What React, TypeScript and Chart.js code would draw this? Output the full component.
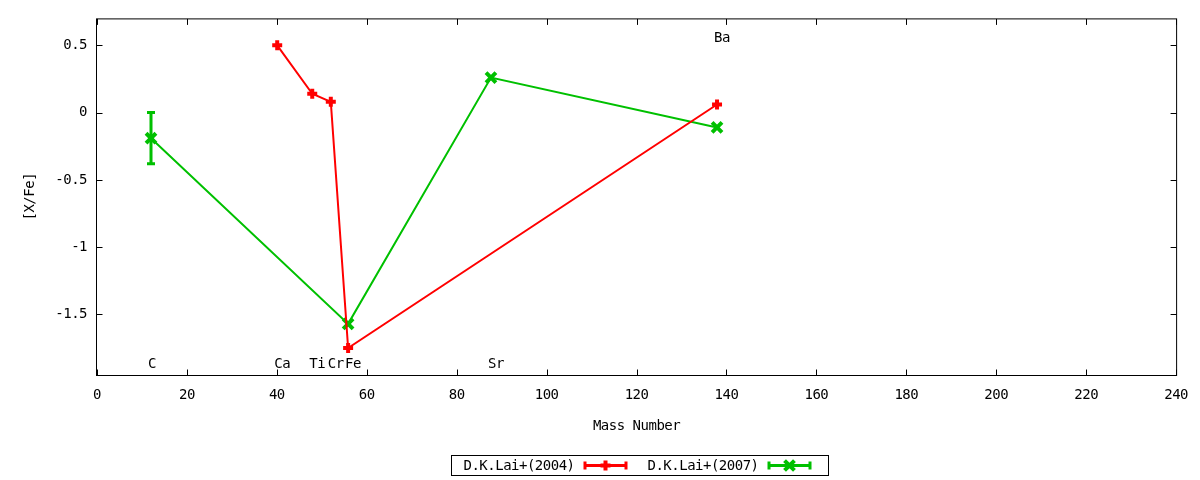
import React, { useEffect, useRef } from "react";
import { Chart, registerables } from "chart.js";

Chart.register(...registerables);

const FONT_FAMILY = '"DejaVu Sans Mono", monospace';
const FONT_SIZE = 14;
const LETTER_SPACING = "-0.5px";

// ---- data ----
const xTickValues = [0, 20, 40, 60, 80, 100, 120, 140, 160, 180, 200, 220, 240];
const yTickValues = [0.5, 0, -0.5, -1, -1.5];
const xTitle = "Mass Number";
const yTitle = "[X/Fe]";

const seriesNames = ["D.K.Lai+(2004)", "D.K.Lai+(2007)"];

const lai2004Elements = ["Ca", "Ti", "Cr", "Fe", "Ba"];
const lai2004Mass = [40.08, 47.87, 52.0, 55.85, 137.9];
const lai2004Values = [0.5, 0.14, 0.08, -1.75, 0.06];
const lai2004Errors = [0, 0, 0, 0, 0];

const lai2007Elements = ["C", "Fe", "Sr", "Ba"];
const lai2007Mass = [12.01, 55.85, 87.62, 137.9];
const lai2007Values = [-0.19, -1.57, 0.26, -0.11];
const lai2007Errors = [0.19, 0, 0, 0];

const labelElements = ["C", "Ca", "Ti", "Cr", "Fe", "Sr", "Ba"];
const labelMass = [12.01, 40.08, 47.87, 52.0, 55.85, 87.62, 137.9];
const labelY = [-1.87, -1.87, -1.87, -1.87, -1.87, -1.87, 0.55];

const seriesColors = ["#ff0000", "#00c000"];
const seriesMarkers = ["cross", "crossRot"];
const seriesMarkerRadius = [5, 7];

function drawMarker(ctx: CanvasRenderingContext2D, style: string, x: number, y: number, r: number) {
  ctx.beginPath();
  if (style === "cross") {
    ctx.moveTo(x - r, y);
    ctx.lineTo(x + r, y);
    ctx.moveTo(x, y - r);
    ctx.lineTo(x, y + r);
  } else {
    const d = r * 0.7071;
    ctx.moveTo(x - d, y - d);
    ctx.lineTo(x + d, y + d);
    ctx.moveTo(x - d, y + d);
    ctx.lineTo(x + d, y - d);
  }
  ctx.stroke();
}

const setSpacing = (chart: any) => {
  try {
    (chart.ctx as any).letterSpacing = LETTER_SPACING;
  } catch (e) {}
};

const spacingPlugin = {
  id: "letterSpacing",
  beforeInit: setSpacing,
  beforeUpdate: setSpacing,
  beforeDraw: setSpacing,
};

const framePlugin = {
  id: "gnuFrame",
  afterDatasetsDraw(chart: any) {
    const { ctx, chartArea } = chart;
    const { left, right, top, bottom } = chartArea;
    const xs = chart.scales.x;
    const ys = chart.scales.y;
    ctx.save();
    ctx.strokeStyle = "#000";
    ctx.lineWidth = 1;
    ctx.strokeRect(left - 0.5, top + 0.5, right - left + 1, bottom - top);
    const tl = 6;
    ctx.beginPath();
    xTickValues.forEach((v) => {
      const px = Math.round(xs.getPixelForValue(v)) + 0.5;
      ctx.moveTo(px, bottom + 0.5);
      ctx.lineTo(px, bottom + 0.5 - tl);
      ctx.moveTo(px, top + 0.5);
      ctx.lineTo(px, top + 0.5 + tl);
    });
    yTickValues.forEach((v) => {
      const py = Math.round(ys.getPixelForValue(v)) + 0.5;
      ctx.moveTo(left - 0.5, py);
      ctx.lineTo(left - 0.5 + tl, py);
      ctx.moveTo(right + 0.5, py);
      ctx.lineTo(right + 0.5 - tl, py);
    });
    ctx.stroke();
    ctx.restore();
  },
};

const errorBarPlugin = {
  id: "errorBars",
  afterDatasetsDraw(chart: any) {
    const { ctx } = chart;
    const ys = chart.scales.y;
    chart.data.datasets.forEach((ds: any, di: number) => {
      const meta = chart.getDatasetMeta(di);
      const errs: number[] = ds.errors || [];
      ctx.save();
      ctx.strokeStyle = ds.borderColor;
      ctx.lineWidth = 3;
      meta.data.forEach((pt: any, i: number) => {
        const e = errs[i];
        if (!e) return;
        const v = ds.data[i].y;
        const y1 = ys.getPixelForValue(v + e);
        const y2 = ys.getPixelForValue(v - e);
        ctx.beginPath();
        ctx.moveTo(pt.x, y1);
        ctx.lineTo(pt.x, y2);
        ctx.moveTo(pt.x - 4, y1);
        ctx.lineTo(pt.x + 4, y1);
        ctx.moveTo(pt.x - 4, y2);
        ctx.lineTo(pt.x + 4, y2);
        ctx.stroke();
      });
      ctx.restore();
    });
  },
};

const labelPlugin = {
  id: "elementLabels",
  afterDatasetsDraw(chart: any) {
    const { ctx } = chart;
    const xs = chart.scales.x;
    const ys = chart.scales.y;
    ctx.save();
    ctx.font = `${FONT_SIZE}px ${FONT_FAMILY}`;
    ctx.fillStyle = "#000";
    ctx.textAlign = "left";
    ctx.textBaseline = "middle";
    labelElements.forEach((el, i) => {
      ctx.fillText(el, xs.getPixelForValue(labelMass[i]) - 3, ys.getPixelForValue(labelY[i]));
    });
    ctx.restore();
  },
};

const legendPlugin = {
  id: "gnuLegend",
  afterDraw(chart: any) {
    const { ctx, chartArea } = chart;
    ctx.save();
    ctx.font = `${FONT_SIZE}px ${FONT_FAMILY}`;
    const padL = 12;
    const gap = 9;
    const sample = 44;
    const between = 20;
    const padR = 17;
    const widths = chart.data.datasets.map((ds: any) => ctx.measureText(ds.label).width);
    let total = padL + padR;
    widths.forEach((w: number, i: number) => {
      total += w + gap + sample + (i < widths.length - 1 ? between : 0);
    });
    const cx = (chartArea.left + chartArea.right) / 2 + 3;
    const x0 = Math.round(cx - total / 2) + 0.5;
    const yTop = 455.5;
    const h = 20;
    const yc = yTop + h / 2;
    ctx.strokeStyle = "#000";
    ctx.lineWidth = 1;
    ctx.strokeRect(x0, yTop, Math.round(total), h);
    let x = x0 + padL;
    chart.data.datasets.forEach((ds: any, i: number) => {
      ctx.fillStyle = "#000";
      ctx.textAlign = "left";
      ctx.textBaseline = "middle";
      ctx.fillText(ds.label, x, yc + 1);
      x += widths[i] + gap;
      ctx.strokeStyle = ds.borderColor;
      ctx.lineWidth = 3;
      ctx.beginPath();
      ctx.moveTo(x, yc);
      ctx.lineTo(x + sample, yc);
      ctx.moveTo(x + 1.5, yc - 4);
      ctx.lineTo(x + 1.5, yc + 4);
      ctx.moveTo(x + sample - 1.5, yc - 4);
      ctx.lineTo(x + sample - 1.5, yc + 4);
      ctx.stroke();
      ctx.lineWidth = ds.pointBorderWidth;
      drawMarker(ctx, ds.pointStyle, x + sample / 2, yc, ds.pointRadius);
      x += sample + between;
    });
    ctx.restore();
  },
};

function makeData(mass: number[], values: number[]) {
  return mass.map((m, i) => ({ x: m, y: values[i] }));
}

export default function App() {
  const canvasRef = useRef<HTMLCanvasElement | null>(null);

  useEffect(() => {
    if (!canvasRef.current) return;
    const font = { family: FONT_FAMILY, size: FONT_SIZE };
    const makeDataset = (i: number, elements: string[], mass: number[], values: number[], errors: number[]) =>
      ({
        label: seriesNames[i],
        data: makeData(mass, values),
        elements,
        errors,
        borderColor: seriesColors[i],
        backgroundColor: seriesColors[i],
        borderWidth: 2,
        pointStyle: seriesMarkers[i],
        pointRadius: seriesMarkerRadius[i],
        pointBorderWidth: 4,
        tension: 0,
      } as any);
    const chart = new Chart(canvasRef.current, {
      type: "line",
      data: {
        datasets: [
          makeDataset(0, lai2004Elements, lai2004Mass, lai2004Values, lai2004Errors),
          makeDataset(1, lai2007Elements, lai2007Mass, lai2007Values, lai2007Errors),
        ],
      },
      options: {
        animation: false,
        responsive: true,
        maintainAspectRatio: false,
        devicePixelRatio: 1,
        layout: { padding: { left: 0, top: 17, right: 23, bottom: 0 } },
        plugins: {
          legend: { display: false },
          tooltip: { enabled: false },
        },
        scales: {
          x: {
            type: "linear",
            min: 0,
            max: 240,
            grid: { display: false, drawTicks: false },
            border: { display: false },
            ticks: {
              stepSize: 20,
              font,
              color: "#000",
              padding: 12,
              maxRotation: 0,
              autoSkip: false,
              callback: (v: any) => String(v),
            },
            afterBuildTicks: (scale: any) => {
              scale.ticks = xTickValues.map((v) => ({ value: v }));
            },
            afterFit: (scale: any) => {
              scale.height = 105;
            },
            title: {
              display: true,
              text: xTitle,
              font,
              color: "#000",
              padding: { top: 0, bottom: 45 },
            },
          },
          y: {
            type: "linear",
            min: -1.95,
            max: 0.7,
            grid: { display: false, drawTicks: false },
            border: { display: false },
            ticks: {
              font,
              color: "#000",
              padding: 10,
              autoSkip: false,
              callback: (v: any) => String(v),
            },
            afterBuildTicks: (scale: any) => {
              scale.ticks = yTickValues.map((v) => ({ value: v }));
            },
            afterFit: (scale: any) => {
              scale.width = 97;
            },
            title: {
              display: true,
              text: yTitle,
              font,
              color: "#000",
              padding: { top: 22, bottom: 0 },
            },
          },
        },
      } as any,
      plugins: [spacingPlugin, errorBarPlugin, labelPlugin, framePlugin, legendPlugin],
    });
    return () => chart.destroy();
  }, []);

  return (
    <div style={{ position: "fixed", left: 0, top: 0, width: 1200, height: 480, background: "#fff" }}>
      <canvas ref={canvasRef} />
    </div>
  );
}
